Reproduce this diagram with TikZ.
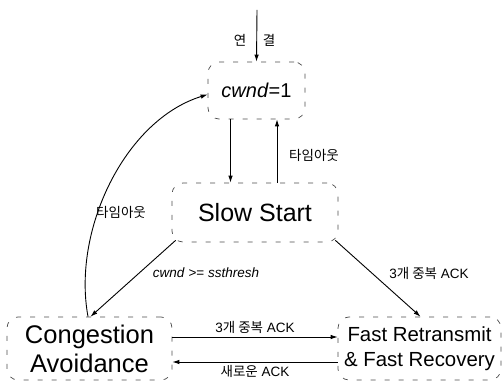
\documentclass[tikz,border=0pt]{standalone}
\usepackage{fontspec}
\setmainfont{Liberation Sans}
\newfontfamily\kr{Noto Sans CJK KR}
\usetikzlibrary{arrows.meta,calc}
\begin{document}
\begin{tikzpicture}[x=1pt,y=-1pt,
  state/.style={draw=black!70,line width=0.7pt,dash pattern=on 5pt off 9pt,rounded corners=11pt,inner sep=0pt,align=center},
  arr/.style={line width=0.9pt,-{Latex[length=7pt,width=4.5pt]}},
  lbl/.style={font=\fontsize{13.5}{15}\selectfont,inner sep=1pt}]
\useasboundingbox (0,0) rectangle (503,382);
\node[state,minimum width=97pt,minimum height=57pt,font=\fontsize{20}{24}\selectfont] (cw) at (256.5,90.5) {\textit{cwnd}=1};
\node[state,minimum width=166pt,minimum height=59pt,font=\fontsize{25}{28}\selectfont] (ss) at (255,212.5) {Slow Start};
\node[state,minimum width=165pt,minimum height=63pt,font=\fontsize{25.5}{29}\selectfont] (ca) at (89.5,348.5) {Congestion\\Avoidance};
\node[state,minimum width=163pt,minimum height=63pt,font=\fontsize{20.4}{25}\selectfont] (fr) at (419.5,348.5) {Fast Retransmit\\\& Fast Recovery};
\coordinate (in) at (257,10);
\draw[arr] (in) -- (cw.north);
\node[lbl] (l1) at (240,40) {\kr 연};
\node[lbl] (l2) at (269,40) {\kr 결};
\draw[arr] ($(cw.south)+(-26,0)$) -- ($(ss.north)+(-24.5,0)$);
\draw[arr] ($(ss.north)+(22,0)$) -- ($(cw.south)+(20.5,0)$);
\node[lbl] (t1) at (314,155) {\kr 타임아웃};
\draw[arr] ($(ca.north)+(-1.5,0)$) .. controls (72,230) and (125,120) .. ($(cw.west)+(0,4)$);
\node[lbl] (t2) at (121,212) {\kr 타임아웃};
\draw[arr] ($(ss.south west)+(4,-2)$) -- ($(ca.north)+(1,0)$);
\node[lbl] (c1) at (206,273) {\textit{cwnd} >= \textit{ssthresh}};
\draw[arr] ($(ss.south east)+(-3,-2)$) -- ($(fr.north)+(1,0)$);
\node[lbl] (c2) at (429,273) {3{\kr 개 중복} ACK};
\draw[arr] ($(ca.east)+(0,-11.5)$) -- ($(fr.west)+(0,-11.5)$);
\node[lbl] (c3) at (255,327) {3{\kr 개 중복} ACK};
\draw[arr] ($(fr.west)+(0,13.5)$) -- ($(ca.east)+(0,13.5)$);
\node[lbl] (c4) at (255,371) {{\kr 새로운} ACK};
\end{tikzpicture}
\end{document}
